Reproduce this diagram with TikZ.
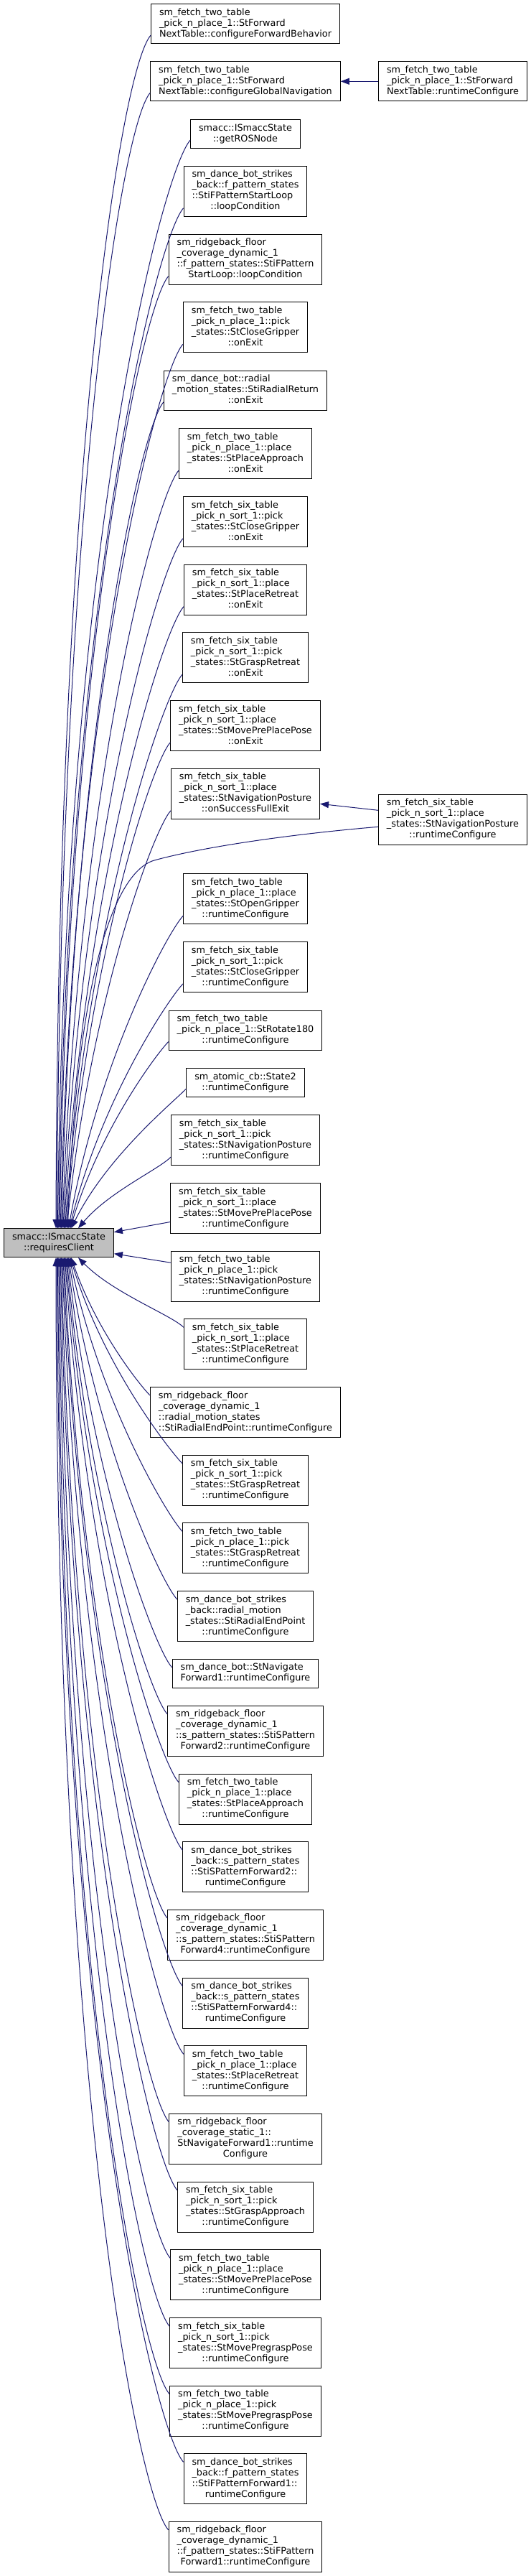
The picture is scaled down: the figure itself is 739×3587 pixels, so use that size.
\documentclass[tikz,border=0pt]{standalone}
\usepackage{fontspec}
\setmainfont{DejaVu Sans}
\usetikzlibrary{arrows.meta,calc}
\definecolor{edgeblue}{RGB}{25,25,112}
\newcommand{\lbl}[1]{\begin{tabular}{@{}l@{}}#1\end{tabular}}
\newcommand{\lblc}[1]{\begin{tabular}{@{}c@{}}#1\end{tabular}}
\newcommand{\lc}[1]{\multicolumn{1}{@{}c@{}}{#1}}
\tikzset{
 fnbox/.style={draw=black, line width=1pt, fill=white, inner xsep=11.5pt, inner ysep=5pt, font=\fontsize{12.8pt}{15pt}\selectfont},
 mainbox/.style={fnbox, fill=gray!50},
 calledge/.style={draw=edgeblue, line width=1pt, -{Triangle[length=12pt,width=9pt]}},
}
\newcommand{\upedge}[2]{\draw[calledge] let \p1=($(#1.south west)+(0,12pt)$), \p2=([xshift=#2pt]main.north),
  \n1={abs(\y1-(\y2))}, \n2={\x1-(\x2)}, \n3={max(0,0.35-0.0002*\n1)} in
  (\p1) .. controls +({-(15+0.016*\n1)*1pt},{-(15+0.02*\n1)*1pt}) and +({\n3*\n2*1pt},{(0.5+0.085*\n1/1000)*\n1*1pt}) .. (\p2);}
\newcommand{\downedge}[2]{\draw[calledge] let \p1=($(#1.north west)+(0,-12pt)$), \p2=([xshift=#2pt]main.south),
  \n1={abs(\y1-(\y2))}, \n2={\x1-(\x2)}, \n3={max(0,0.35-0.0002*\n1)} in
  (\p1) .. controls +({-(15+0.016*\n1)*1pt},{(15+0.02*\n1)*1pt}) and +({\n3*\n2*1pt},{-(0.5+0.085*\n1/1000)*\n1*1pt}) .. (\p2);}
\begin{document}
\begin{tikzpicture}
\path[use as bounding box, fill=white] (0,0) rectangle (739pt,-3587pt);
% main node
\node[mainbox] (main) at (82pt,-1730.7pt) {\lblc{smacc::ISmaccState\\::requiresClient}};
% right column
\node[fnbox] (r1) at (631pt,-113.3pt) {\lbl{sm\_fetch\_two\_table\\\_pick\_n\_place\_1::StForward\\\lc{NextTable::runtimeConfigure}}};
\node[fnbox] (r2) at (631pt,-1141.3pt) {\lbl{sm\_fetch\_six\_table\\\_pick\_n\_sort\_1::place\\\_states::StNavigationPosture\\\lc{::runtimeConfigure}}};
% middle column
\node[fnbox] (n1) at (342pt,-33.2pt) {\lbl{sm\_fetch\_two\_table\\\_pick\_n\_place\_1::StForward\\\lc{NextTable::configureForwardBehavior}}};
\node[fnbox] (n2) at (342pt,-113.3pt) {\lbl{sm\_fetch\_two\_table\\\_pick\_n\_place\_1::StForward\\\lc{NextTable::configureGlobalNavigation}}};
\node[fnbox] (n3) at (342pt,-186.7pt) {\lbl{smacc::ISmaccState\\\lc{::getROSNode}}};
\node[fnbox] (n4) at (342pt,-266.3pt) {\lbl{sm\_dance\_bot\_strikes\\\_back::f\_pattern\_states\\::StiFPatternStartLoop\\\lc{::loopCondition}}};
\node[fnbox] (n5) at (342pt,-361.3pt) {\lbl{sm\_ridgeback\_floor\\\_coverage\_dynamic\_1\\::f\_pattern\_states::StiFPattern\\\lc{StartLoop::loopCondition}}};
\node[fnbox] (n6) at (342pt,-455.8pt) {\lbl{sm\_fetch\_two\_table\\\_pick\_n\_place\_1::pick\\\_states::StCloseGripper\\\lc{::onExit}}};
\node[fnbox] (n7) at (342pt,-543.8pt) {\lbl{sm\_dance\_bot::radial\\\_motion\_states::StiRadialReturn\\\lc{::onExit}}};
\node[fnbox] (n8) at (342pt,-631.7pt) {\lbl{sm\_fetch\_two\_table\\\_pick\_n\_place\_1::place\\\_states::StPlaceApproach\\\lc{::onExit}}};
\node[fnbox] (n9) at (342pt,-726.5pt) {\lbl{sm\_fetch\_six\_table\\\_pick\_n\_sort\_1::pick\\\_states::StCloseGripper\\\lc{::onExit}}};
\node[fnbox] (n10) at (342pt,-821.3pt) {\lbl{sm\_fetch\_six\_table\\\_pick\_n\_sort\_1::place\\\_states::StPlaceRetreat\\\lc{::onExit}}};
\node[fnbox] (n11) at (342pt,-915.8pt) {\lbl{sm\_fetch\_six\_table\\\_pick\_n\_sort\_1::pick\\\_states::StGraspRetreat\\\lc{::onExit}}};
\node[fnbox] (n12) at (342pt,-1010.5pt) {\lbl{sm\_fetch\_six\_table\\\_pick\_n\_sort\_1::place\\\_states::StMovePrePlacePose\\\lc{::onExit}}};
\node[fnbox] (n13) at (342pt,-1105.3pt) {\lbl{sm\_fetch\_six\_table\\\_pick\_n\_sort\_1::place\\\_states::StNavigationPosture\\\lc{::onSuccessFullExit}}};
\node[fnbox] (n14) at (342pt,-1251.7pt) {\lbl{sm\_fetch\_two\_table\\\_pick\_n\_place\_1::place\\\_states::StOpenGripper\\\lc{::runtimeConfigure}}};
\node[fnbox] (n15) at (342pt,-1346.5pt) {\lbl{sm\_fetch\_six\_table\\\_pick\_n\_sort\_1::pick\\\_states::StCloseGripper\\\lc{::runtimeConfigure}}};
\node[fnbox] (n16) at (342pt,-1434.5pt) {\lbl{sm\_fetch\_two\_table\\\_pick\_n\_place\_1::StRotate180\\\lc{::runtimeConfigure}}};
\node[fnbox] (n17) at (342pt,-1507.7pt) {\lbl{sm\_atomic\_cb::State2\\\lc{::runtimeConfigure}}};
\node[fnbox] (n18) at (342pt,-1587.7pt) {\lbl{sm\_fetch\_six\_table\\\_pick\_n\_sort\_1::pick\\\_states::StNavigationPosture\\\lc{::runtimeConfigure}}};
\node[fnbox] (n19) at (342pt,-1682.5pt) {\lbl{sm\_fetch\_six\_table\\\_pick\_n\_sort\_1::place\\\_states::StMovePrePlacePose\\\lc{::runtimeConfigure}}};
\node[fnbox] (n20) at (342pt,-1777.2pt) {\lbl{sm\_fetch\_two\_table\\\_pick\_n\_place\_1::pick\\\_states::StNavigationPosture\\\lc{::runtimeConfigure}}};
\node[fnbox] (n21) at (342pt,-1871.8pt) {\lbl{sm\_fetch\_six\_table\\\_pick\_n\_sort\_1::place\\\_states::StPlaceRetreat\\\lc{::runtimeConfigure}}};
\node[fnbox] (n22) at (342pt,-1966.5pt) {\lbl{sm\_ridgeback\_floor\\\_coverage\_dynamic\_1\\::radial\_motion\_states\\\lc{::StiRadialEndPoint::runtimeConfigure}}};
\node[fnbox] (n23) at (342pt,-2061.3pt) {\lbl{sm\_fetch\_six\_table\\\_pick\_n\_sort\_1::pick\\\_states::StGraspRetreat\\\lc{::runtimeConfigure}}};
\node[fnbox] (n24) at (342pt,-2155.8pt) {\lbl{sm\_fetch\_two\_table\\\_pick\_n\_place\_1::pick\\\_states::StGraspRetreat\\\lc{::runtimeConfigure}}};
\node[fnbox] (n25) at (342pt,-2250.5pt) {\lbl{sm\_dance\_bot\_strikes\\\_back::radial\_motion\\\_states::StiRadialEndPoint\\\lc{::runtimeConfigure}}};
\node[fnbox] (n26) at (342pt,-2330.3pt) {\lbl{sm\_dance\_bot::StNavigate\\\lc{Forward1::runtimeConfigure}}};
\node[fnbox] (n27) at (342pt,-2410.3pt) {\lbl{sm\_ridgeback\_floor\\\_coverage\_dynamic\_1\\::s\_pattern\_states::StiSPattern\\\lc{Forward2::runtimeConfigure}}};
\node[fnbox] (n28) at (342pt,-2505.2pt) {\lbl{sm\_fetch\_two\_table\\\_pick\_n\_place\_1::place\\\_states::StPlaceApproach\\\lc{::runtimeConfigure}}};
\node[fnbox] (n29) at (342pt,-2599.8pt) {\lbl{sm\_dance\_bot\_strikes\\\_back::s\_pattern\_states\\::StiSPatternForward2::\\\lc{runtimeConfigure}}};
\node[fnbox] (n30) at (342pt,-2694.3pt) {\lbl{sm\_ridgeback\_floor\\\_coverage\_dynamic\_1\\::s\_pattern\_states::StiSPattern\\\lc{Forward4::runtimeConfigure}}};
\node[fnbox] (n31) at (342pt,-2789.2pt) {\lbl{sm\_dance\_bot\_strikes\\\_back::s\_pattern\_states\\::StiSPatternForward4::\\\lc{runtimeConfigure}}};
\node[fnbox] (n32) at (342pt,-2883.8pt) {\lbl{sm\_fetch\_two\_table\\\_pick\_n\_place\_1::place\\\_states::StPlaceRetreat\\\lc{::runtimeConfigure}}};
\node[fnbox] (n33) at (342pt,-2978.3pt) {\lbl{sm\_ridgeback\_floor\\\_coverage\_static\_1::\\StNavigateForward1::runtime\\\lc{Configure}}};
\node[fnbox] (n34) at (342pt,-3073.3pt) {\lbl{sm\_fetch\_six\_table\\\_pick\_n\_sort\_1::pick\\\_states::StGraspApproach\\\lc{::runtimeConfigure}}};
\node[fnbox] (n35) at (342pt,-3167.8pt) {\lbl{sm\_fetch\_two\_table\\\_pick\_n\_place\_1::place\\\_states::StMovePrePlacePose\\\lc{::runtimeConfigure}}};
\node[fnbox] (n36) at (342pt,-3262.7pt) {\lbl{sm\_fetch\_six\_table\\\_pick\_n\_sort\_1::pick\\\_states::StMovePregraspPose\\\lc{::runtimeConfigure}}};
\node[fnbox] (n37) at (342pt,-3357.2pt) {\lbl{sm\_fetch\_two\_table\\\_pick\_n\_place\_1::pick\\\_states::StMovePregraspPose\\\lc{::runtimeConfigure}}};
\node[fnbox] (n38) at (342pt,-3451.8pt) {\lbl{sm\_dance\_bot\_strikes\\\_back::f\_pattern\_states\\::StiFPatternForward1::\\\lc{runtimeConfigure}}};
\node[fnbox] (n39) at (342pt,-3546.3pt) {\lbl{sm\_ridgeback\_floor\\\_coverage\_dynamic\_1\\::f\_pattern\_states::StiFPattern\\\lc{Forward1::runtimeConfigure}}};
% edges from right column
\draw[calledge] (r1.west) -- (n2.east);
\draw[calledge] ([yshift=13pt]r2.west) -- ([yshift=-14pt]n13.east);
\draw[calledge] ([yshift=-10pt]r2.west) .. controls (400pt,-1162pt) and (280pt,-1180pt) .. (215pt,-1198pt) .. controls (175pt,-1209pt) and (110pt,-1300pt) .. ([xshift=12.25pt]main.north);
% edges from upper nodes
\upedge{n1}{-4}
\upedge{n2}{-2.75}
\upedge{n3}{-1.5}
\upedge{n4}{-0.25}
\upedge{n5}{1}
\upedge{n6}{2.25}
\upedge{n7}{3.5}
\upedge{n8}{4.75}
\upedge{n9}{6}
\upedge{n10}{7.25}
\upedge{n11}{8.5}
\upedge{n12}{9.75}
\upedge{n13}{11}
\upedge{n14}{13.5}
\upedge{n15}{14.75}
\upedge{n16}{16}
\upedge{n17}{17.25}
\upedge{n18}{27}
\draw[calledge] ([yshift=-19pt]n19.west) -- ([yshift=15pt]main.east);
\draw[calledge] ([yshift=19pt]n20.west) -- ([yshift=-15pt]main.east);
% edges from lower nodes
\downedge{n21}{27}
\downedge{n22}{17.25}
\downedge{n23}{16}
\downedge{n24}{14.75}
\downedge{n25}{13.5}
\downedge{n26}{12.25}
\downedge{n27}{11}
\downedge{n28}{9.75}
\downedge{n29}{8.5}
\downedge{n30}{7.25}
\downedge{n31}{6}
\downedge{n32}{4.75}
\downedge{n33}{3.5}
\downedge{n34}{2.25}
\downedge{n35}{1}
\downedge{n36}{-0.25}
\downedge{n37}{-1.5}
\downedge{n38}{-2.75}
\downedge{n39}{-4}
\end{tikzpicture}
\end{document}
